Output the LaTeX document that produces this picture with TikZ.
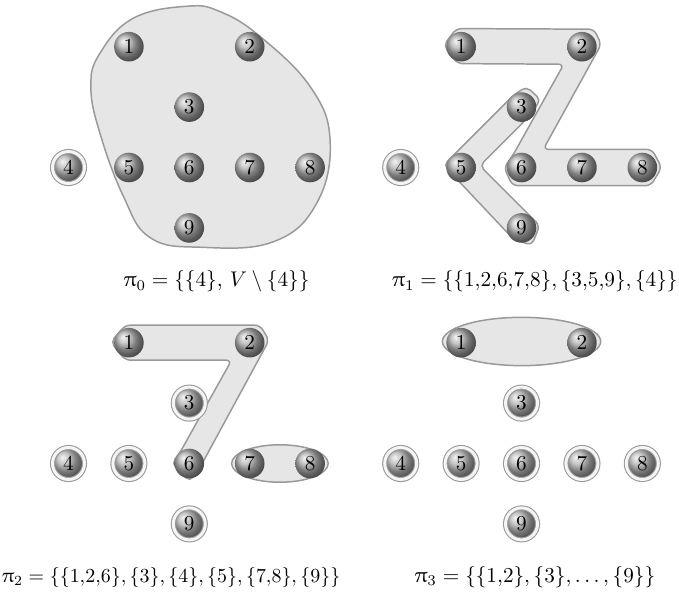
\documentclass[tikz,border=0pt]{standalone}
\usepackage{amsmath,amssymb}
\usepackage{upgreek}
\usepackage{tikz}
\usetikzlibrary{calc}
\usepackage{xcolor}
\definecolor{hullfill}{HTML}{E6E6E6}
\definecolor{hullline}{HTML}{999999}

\begin{document}
\begin{tikzpicture}[
  vertex/.style={circle, shading=ball, ball color=gray!60, minimum size=4.9mm, inner sep=0pt, font=\normalsize},
  singleton/.style={vertex, minimum size=5.3mm, draw=hullline, double=gray!8, double distance=1.4pt, line width=0.5pt},
  hull/.style={draw=hullline, fill=hullfill, line width=0.7pt, rounded corners=2.5pt},
  caption/.style={font=\normalsize}
]
\useasboundingbox (-3.134,-7.045) rectangle (8.107,2.773);

\begin{scope}
\draw[hull, sharp corners] plot[smooth cycle, tension=0.7] coordinates {(-0.04,2.67) (-0.93,2.47) (-1.48,1.89) (-1.63,1.34) (-1.48,0.57) (-1.09,-0.48) (-0.65,-1.16) (0.18,-1.32) (1.39,-1.23) (2.11,-0.59) (2.33,0.46) (2.00,1.34) (1.17,2.17) (0.51,2.58)};
\foreach \n/\x/\y/\s in {1/-1/2/vertex, 2/1/2/vertex, 3/0/1/vertex, 4/-2/0/singleton, 5/-1/0/vertex, 6/0/0/vertex, 7/1/0/vertex, 8/2/0/vertex, 9/0/-1/vertex}
  \node[\s] (a\n) at (\x,\y) {\n};
\node[caption] (cap0) at (0.45,-1.89) {$\uppi_0 = \{\{4\},\, V \setminus \{4\}\}$};
\end{scope}

\begin{scope}[shift={(5.5,0)}]
\draw[hull] (-1.29,2.02) -- (-1.08,2.30) -- (1.20,2.29) -- (1.32,2.04) -- (0.36,0.30) -- (2.16,0.30) -- (2.32,0) -- (2.14,-0.30) -- (-0.15,-0.30) -- (-0.29,0) -- (-0.15,0.19) -- (0.70,1.71) -- (-1.06,1.72) -- cycle;
\draw[hull] (0.08,1.34) -- (0.32,1.12) -- (0.05,0.77) -- (-0.69,0.03) -- (0.30,-0.96) -- (0.17,-1.29) -- (-0.14,-1.18) -- (-1.29,0.04) -- (-0.14,1.19) -- cycle;
\foreach \n/\x/\y/\s in {1/-1/2/vertex, 2/1/2/vertex, 3/0/1/vertex, 4/-2/0/singleton, 5/-1/0/vertex, 6/0/0/vertex, 7/1/0/vertex, 8/2/0/vertex, 9/0/-1/vertex}
  \node[\s] (b\n) at (\x,\y) {\n};
\node[caption] (cap1) at (0.22,-1.89) {$\uppi_1 = \{\{1{,}2{,}6{,}7{,}8\}, \{3{,}5{,}9\}, \{4\}\}$};
\end{scope}

\begin{scope}[shift={(0,-4.9)}]
\draw[hull] (-1.30,2.01) -- (-1.06,2.29) -- (1.17,2.29) -- (1.32,2.04) -- (0.18,-0.06) -- (0.01,-0.30) -- (-0.29,0) -- (-0.15,0.19) -- (0.70,1.71) -- (-1.06,1.71) -- cycle;
\draw[hull] (1.5,0) ellipse [x radius=0.8, y radius=0.31];
\foreach \n/\x/\y/\s in {1/-1/2/vertex, 2/1/2/vertex, 3/0/1/singleton, 4/-2/0/singleton, 5/-1/0/singleton, 6/0/0/vertex, 7/1/0/vertex, 8/2/0/vertex, 9/0/-1/singleton}
  \node[\s] (c\n) at (\x,\y) {\n};
\node[caption, scale=0.94] (cap2) at (-0.30,-1.88) {$\uppi_2 = \{\{1{,}2{,}6\}, \{3\}, \{4\}, \{5\}, \{7{,}8\}, \{9\}\}$};
\end{scope}

\begin{scope}[shift={(5.5,-4.9)}]
\draw[hull] (0,2.02) ellipse [x radius=1.31, y radius=0.40];
\foreach \n/\x/\y/\s in {1/-1/2/vertex, 2/1/2/vertex, 3/0/1/singleton, 4/-2/0/singleton, 5/-1/0/singleton, 6/0/0/singleton, 7/1/0/singleton, 8/2/0/singleton, 9/0/-1/singleton}
  \node[\s] (d\n) at (\x,\y) {\n};
\node[caption] (cap3) at (0.22,-1.88) {$\uppi_3 = \{\{1{,}2\}, \{3\}, \ldots, \{9\}\}$};
\end{scope}
\end{tikzpicture}
\end{document}
